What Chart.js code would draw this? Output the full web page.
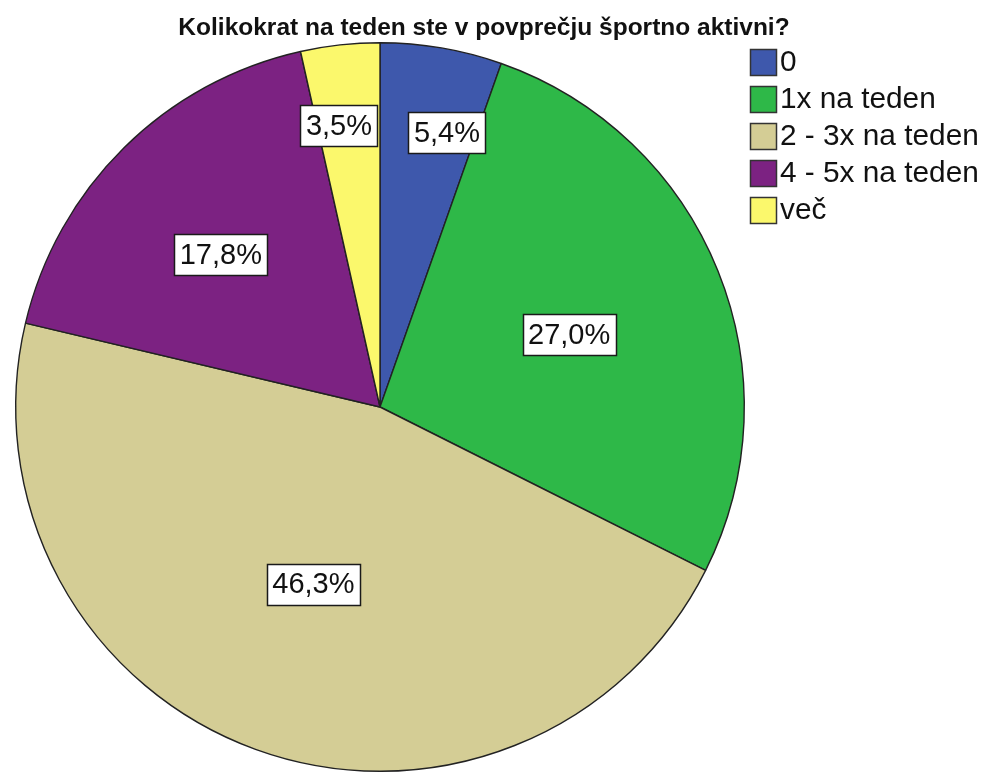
<!DOCTYPE html>
<html>
<head>
<meta charset="utf-8">
<script src="https://cdn.jsdelivr.net/npm/chart.js@4"></script>
<style>
  html, body { margin: 0; padding: 0; background: #fff; overflow: hidden; }
  #wrap { width: 986px; height: 776px; }
</style>
</head>
<body>
<div id="wrap"><canvas id="sportChart" width="986" height="776"></canvas></div>
<script>
// Survey data
const chartTitle = 'Kolikokrat na teden ste v povprečju športno aktivni?';
const categories = ['0', '1x na teden', '2 - 3x na teden', '4 - 5x na teden', 'več'];
const shares = [5.4, 27.0, 46.3, 17.8, 3.5];
const sliceColors = ['#3e58ac', '#2eb848', '#d4cd95', '#7c2282', '#fbf86c'];

// How far out each percentage box sits (fraction of radius) and a small angular nudge in degrees
const labelRadius = [0.775, 0.556, 0.52, 0.605, 0.78];
const labelNudge = [4, 1, 0.6, -1.6, -2];

const FONT = '"Liberation Sans", Arial, sans-serif';

function formatShare(v) {
  return v.toFixed(1).replace('.', ',') + '%';
}

// Title, legend and value boxes drawn on top of the pie
const decorations = {
  id: 'decorations',
  afterDatasetsDraw(chart) {
    const ctx = chart.ctx;
    const meta = chart.getDatasetMeta(0);

    // value boxes
    ctx.save();
    ctx.font = '29px ' + FONT;
    ctx.textAlign = 'center';
    ctx.textBaseline = 'middle';
    meta.data.forEach((arc, i) => {
      const p = arc.getProps(['x', 'y', 'startAngle', 'endAngle', 'outerRadius'], true);
      const mid = (p.startAngle + p.endAngle) / 2 + labelNudge[i] * Math.PI / 180;
      const r = p.outerRadius * labelRadius[i];
      const lx = p.x + Math.cos(mid) * r;
      const ly = p.y + Math.sin(mid) * r;
      const text = formatShare(shares[i]);
      const w = ctx.measureText(text).width + 11;
      const h = 41;
      ctx.fillStyle = '#fff';
      ctx.fillRect(Math.round(lx - w / 2), Math.round(ly - h / 2), Math.round(w), h);
      ctx.strokeStyle = '#1a1a1a';
      ctx.lineWidth = 1.5;
      ctx.strokeRect(Math.round(lx - w / 2) + 0.5, Math.round(ly - h / 2) + 0.5, Math.round(w), h);
      ctx.fillStyle = '#111';
      ctx.fillText(text, lx, ly + 1);
    });
    ctx.restore();
  },
  afterDraw(chart) {
    const ctx = chart.ctx;
    ctx.save();

    // title
    ctx.font = 'bold 24.5px ' + FONT;
    ctx.fillStyle = '#111';
    ctx.textAlign = 'center';
    ctx.textBaseline = 'alphabetic';
    ctx.fillText(chartTitle, 484, 35);

    // legend
    ctx.font = '29.8px ' + FONT;
    ctx.textAlign = 'left';
    ctx.textBaseline = 'middle';
    categories.forEach((name, i) => {
      const top = 49 + i * 37;
      ctx.fillStyle = sliceColors[i];
      ctx.fillRect(750, top, 27, 27);
      ctx.strokeStyle = '#333';
      ctx.lineWidth = 1.5;
      ctx.strokeRect(750.5, top + 0.5, 26, 26);
      ctx.fillStyle = '#111';
      ctx.fillText(name, 780, top + 14);
    });
    ctx.restore();
  }
};

function createChart() {
  const ctx = document.getElementById('sportChart').getContext('2d');
  new Chart(ctx, {
    type: 'pie',
    data: {
      labels: categories,
      datasets: [{
        data: shares,
        backgroundColor: sliceColors,
        borderColor: '#222',
        borderWidth: 1.4
      }]
    },
    options: {
      responsive: false,
      animation: false,
      layout: {
        padding: { left: 15, right: 241, top: 42, bottom: 4 }
      },
      plugins: {
        legend: { display: false },
        title: { display: false },
        tooltip: { enabled: false }
      }
    },
    plugins: [decorations]
  });
}

document.addEventListener('DOMContentLoaded', createChart);
</script>
</body>
</html>
